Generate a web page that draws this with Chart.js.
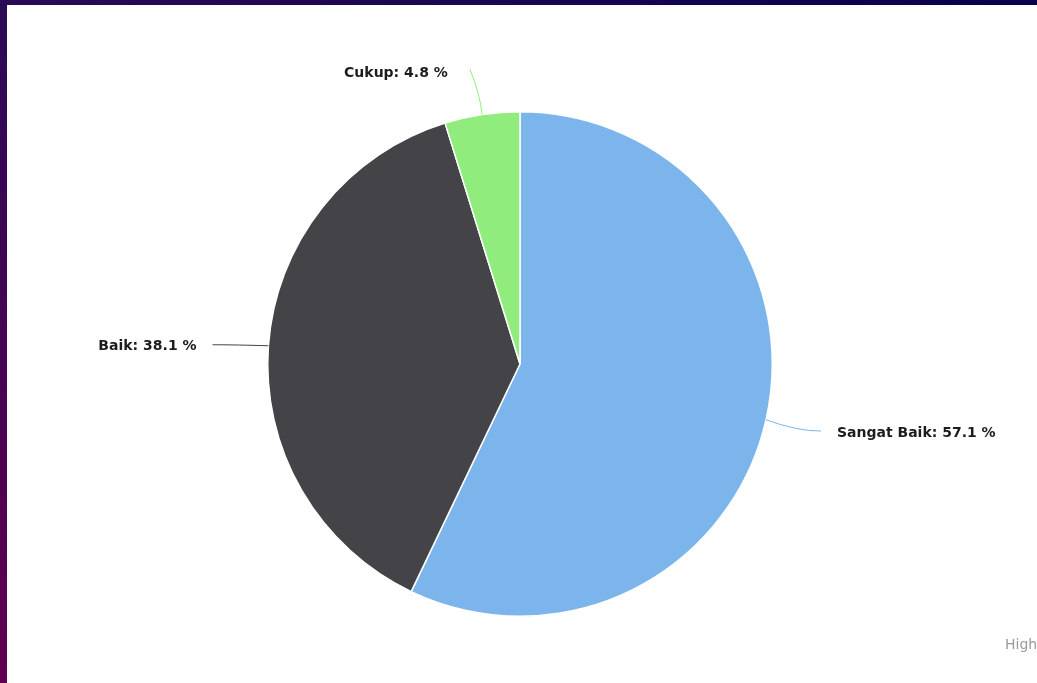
<!DOCTYPE html>
<html>
<head>
<meta charset="utf-8">
<script src="https://cdn.jsdelivr.net/npm/chart.js@4/dist/chart.umd.min.js"></script>
<style>
  html, body { margin: 0; padding: 0; width: 1037px; height: 683px; overflow: hidden; }
  body { background: linear-gradient(to bottom left, #06004f 0%, #2a0a55 50%, #600050 100%); position: relative; }
  #wrap { position: absolute; left: 7px; top: 5px; width: 1030px; height: 678px; background: #ffffff; }
</style>
</head>
<body>
<div id="wrap"><canvas id="c"></canvas></div>
<script>
const categories = ['Sangat Baik', 'Baik', 'Cukup'];
const percentages = [57.1, 38.1, 4.8];
const sliceColors = ['#7cb5ec', '#434348', '#90ed7d'];
const creditText = 'Highcharts.com';

const outsideLabels = {
  id: 'outsideLabels',
  afterDatasetsDraw(chart) {
    const ctx = chart.ctx;
    const meta = chart.getDatasetMeta(0);
    const ds = chart.data.datasets[0];
    ctx.save();
    meta.data.forEach((arc, i) => {
      const p = arc.getProps(['x', 'y', 'startAngle', 'endAngle', 'outerRadius'], true);
      const mid = (p.startAngle + p.endAngle) / 2;
      const cos = Math.cos(mid), sin = Math.sin(mid);
      const x0 = p.x + p.outerRadius * cos, y0 = p.y + p.outerRadius * sin;
      const lx = p.x + (p.outerRadius + 42) * cos, ly = p.y + (p.outerRadius + 42) * sin;
      const side = cos >= 0 ? 1 : -1;
      const horiz = Math.abs(cos) > 0.5;
      ctx.strokeStyle = ds.backgroundColor[i];
      ctx.lineWidth = 1;
      ctx.beginPath();
      ctx.moveTo(x0, y0);
      if (horiz) {
        ctx.quadraticCurveTo(lx - side * 10, ly + 2, lx + side * 14, ly + 2);
      } else {
        ctx.quadraticCurveTo(x0 - 2, (y0 + ly) / 2, lx - 6, ly - 4);
      }
      ctx.stroke();
      const txt = chart.data.labels[i] + ': ' + ds.data[i].toFixed(1) + ' %';
      ctx.font = 'bold 14px "DejaVu Sans", sans-serif';
      ctx.fillStyle = '#1c1c1c';
      ctx.textBaseline = 'middle';
      ctx.textAlign = side > 0 ? 'left' : 'right';
      const tx = horiz ? lx + side * 30 : lx - 28;
      ctx.fillText(txt, tx, horiz ? ly + 4 : ly);
    });
    ctx.font = '14px "DejaVu Sans", sans-serif';
    ctx.fillStyle = '#9a9a9a';
    ctx.textAlign = 'left';
    ctx.textBaseline = 'middle';
    ctx.fillText(creditText, 998, 640);
    ctx.restore();
  }
};

new Chart(document.getElementById('c'), {
  type: 'pie',
  data: {
    labels: categories,
    datasets: [{
      data: percentages,
      backgroundColor: sliceColors,
      borderColor: '#ffffff',
      borderWidth: 1.5
    }]
  },
  options: {
    responsive: true,
    maintainAspectRatio: false,
    animation: false,
    layout: { padding: { top: 106, bottom: 66, left: 0, right: 4 } },
    plugins: {
      legend: { display: false },
      tooltip: { enabled: false }
    }
  },
  plugins: [outsideLabels]
});
</script>
</body>
</html>
